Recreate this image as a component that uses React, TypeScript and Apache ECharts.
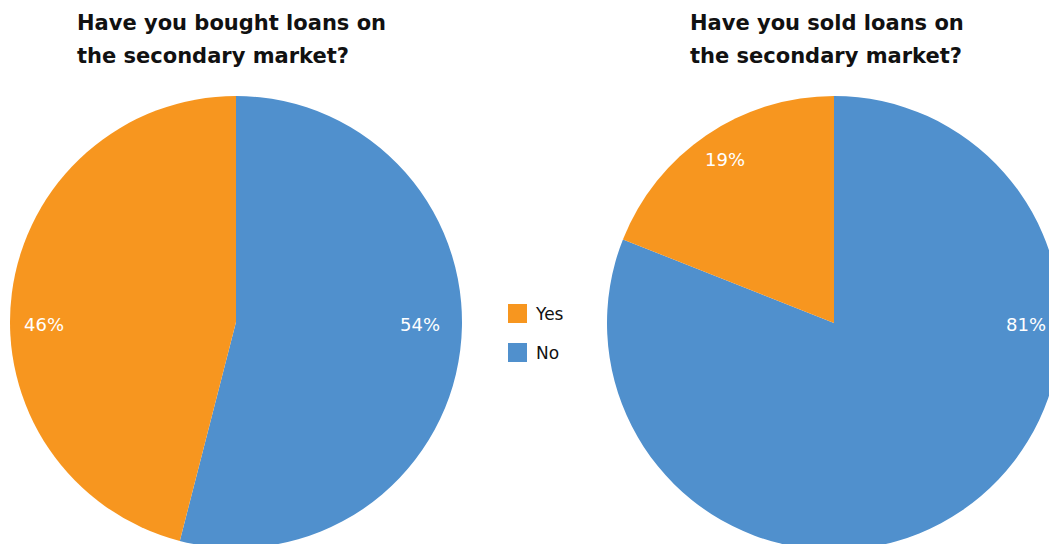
import React, { useEffect, useRef } from "react";
import * as echarts from "echarts";

const categories = ["No", "Yes"];
const boughtValues = [54, 46];
const soldValues = [81, 19];
const titles = [
  "Have you bought loans on\nthe secondary market?",
  "Have you sold loans on\nthe secondary market?",
];
const colors: Record<string, string> = { Yes: "#F7961F", No: "#5090CD" };

// label anchor offsets relative to each pie's centre (layout only)
const labelOffsets = [
  [[184, 2], [-192, 2]],
  [[192, 1], [-109, -164]],
];
const centers = [[236, 322], [834, 323]];
const FONT = "DejaVu Sans";

export default function App() {
  const ref = useRef<HTMLDivElement>(null);
  useEffect(() => {
    const chart = echarts.init(ref.current!, undefined, { renderer: "svg" });
    const mk = (vals: number[], si: number, r: number) => ({
      type: "pie",
      center: centers[si],
      radius: [0, r],
      startAngle: 90,
      clockwise: true,
      silent: true,
      data: categories.map((c, i) => ({
        name: c,
        value: vals[i],
        itemStyle: { color: colors[c] },
      })),
      label: {
        show: true,
        position: "inside",
        formatter: "{c}%",
        color: "#fff",
        fontSize: 18,
        fontWeight: "normal",
        fontFamily: FONT,
      },
      labelLine: { show: false },
      labelLayout: (p: any) => {
        const o = labelOffsets[si][p.dataIndex];
        return {
          x: centers[si][0] + o[0],
          y: centers[si][1] + o[1],
          align: "center",
          verticalAlign: "middle",
        };
      },
    });
    chart.setOption({
      animation: false,
      title: titles.map((t, i) => ({
        text: t,
        left: i === 0 ? 77 : 690,
        top: 6,
        padding: 0,
        textStyle: {
          fontSize: 21,
          fontWeight: "bold",
          color: "#111",
          lineHeight: 33,
          fontFamily: FONT,
        },
      })),
      legend: {
        orient: "vertical",
        left: 508,
        top: 304,
        padding: 0,
        data: ["Yes", "No"],
        icon: "rect",
        itemWidth: 19,
        itemHeight: 19,
        itemGap: 20,
        textStyle: { fontSize: 17, color: "#111", fontFamily: FONT, padding: [0, 0, 0, 4] },
      },
      series: [mk(boughtValues, 0, 226), mk(soldValues, 1, 227)],
    });
    return () => chart.dispose();
  }, []);
  return (
    <div
      ref={ref}
      style={{ position: "fixed", left: 0, top: 0, width: 1049, height: 544, background: "#fff" }}
    />
  );
}
